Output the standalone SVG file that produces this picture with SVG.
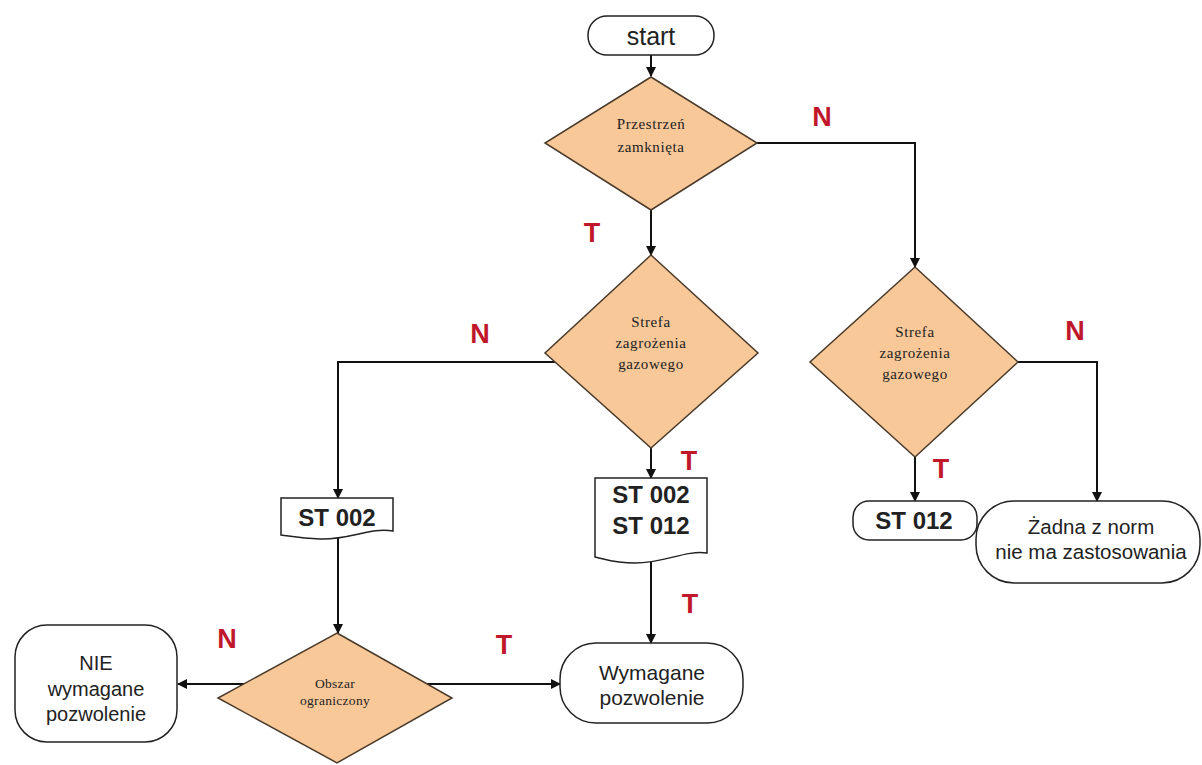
<svg xmlns="http://www.w3.org/2000/svg" width="1202" height="765" viewBox="0 0 1202 765">
<style>
.dia{fill:#f9c899;stroke:#4a3a2a;stroke-width:1.5}
.box{fill:#fff;stroke:#222;stroke-width:1.5}
.ser{font-family:"Liberation Serif",serif;font-size:15px;letter-spacing:0.6px;fill:#222;text-anchor:middle}
.san{font-family:"Liberation Sans",Arial,sans-serif;font-size:20.5px;fill:#222;text-anchor:middle}
.bold{font-family:"Liberation Sans",Arial,sans-serif;font-size:24px;font-weight:bold;fill:#222;text-anchor:middle}
.lbl{font-family:"Liberation Sans",Arial,sans-serif;font-size:27px;font-weight:bold;fill:#c0182a;text-anchor:middle}
.ln{fill:none;stroke:#111;stroke-width:2}
</style>
<defs>
<marker id="ah" markerWidth="10" markerHeight="10" refX="9" refY="5" orient="auto" markerUnits="userSpaceOnUse">
<path d="M0,0 L10,5 L0,10 Z" fill="#111"/>
</marker>
</defs>
<rect width="1202" height="765" fill="#fff"/>
<g id="connectors">
<path class="ln" d="M651,55 V76" marker-end="url(#ah)"/>
<path class="ln" d="M651,210 V255" marker-end="url(#ah)"/>
<path class="ln" d="M757,143 H915 V267" marker-end="url(#ah)"/>
<path class="ln" d="M555,362 H338 V498" marker-end="url(#ah)"/>
<path class="ln" d="M651,448 V478" marker-end="url(#ah)"/>
<path class="ln" d="M651,560 V643" marker-end="url(#ah)"/>
<path class="ln" d="M1018,362 H1097 V501" marker-end="url(#ah)"/>
<path class="ln" d="M915,457 V501" marker-end="url(#ah)"/>
<path class="ln" d="M338,538 V633" marker-end="url(#ah)"/>
<path class="ln" d="M248,684 H178" marker-end="url(#ah)"/>
<path class="ln" d="M425,684 H560" marker-end="url(#ah)"/>
</g>
<g id="start">
<rect class="box" x="588" y="16" width="126" height="39" rx="19"/>
<text class="san" x="651" y="45" style="font-size:25px">start</text>
</g>
<g id="d1">
<polygon class="dia" points="651,77 757,143 651,210 545,143"/>
<text class="ser" x="651" y="129">Przestrzeń</text>
<text class="ser" x="651" y="152">zamknięta</text>
</g>
<g id="d2">
<polygon class="dia" points="651,255 758,353 651,448 545,353"/>
<text class="ser" x="651" y="327">Strefa</text>
<text class="ser" x="651" y="348">zagrożenia</text>
<text class="ser" x="651" y="369">gazowego</text>
</g>
<g id="d3">
<polygon class="dia" points="915,267 1018,362 915,457 810,362"/>
<text class="ser" x="915" y="337">Strefa</text>
<text class="ser" x="915" y="358">zagrożenia</text>
<text class="ser" x="915" y="379">gazowego</text>
</g>
<g id="st002">
<path class="box" d="M281,498 H393 V531 C370,527 350,540 320,539 C300,538 290,536 281,535 Z"/>
<text class="bold" x="337" y="526">ST 002</text>
</g>
<g id="st002012">
<path class="box" d="M595,478 H707 V553 C685,550 665,563 635,563 C615,563 605,559 595,557 Z"/>
<text class="bold" x="651" y="503">ST 002</text>
<text class="bold" x="651" y="534">ST 012</text>
</g>
<g id="st012">
<rect class="box" x="853" y="501" width="124" height="39" rx="16"/>
<text class="bold" x="914" y="529">ST 012</text>
</g>
<g id="zadna">
<rect class="box" x="976" y="501" width="224" height="82" rx="38"/>
<text class="san" x="1091" y="534">Żadna z norm</text>
<text class="san" x="1091" y="559">nie ma zastosowania</text>
</g>
<g id="d4">
<polygon class="dia" points="337,633 452,698 337,763 218,698"/>
<text class="ser" x="335" y="688" style="font-size:13.5px;letter-spacing:0.3px">Obszar</text>
<text class="ser" x="335" y="705" style="font-size:13.5px;letter-spacing:0.3px">ograniczony</text>
</g>
<g id="nie">
<rect class="box" x="15" y="625" width="162" height="117" rx="32"/>
<text class="san" x="96" y="670" style="font-size:20px">NIE</text>
<text class="san" x="96" y="696" style="font-size:20px">wymagane</text>
<text class="san" x="96" y="721" style="font-size:20px">pozwolenie</text>
</g>
<g id="wymagane">
<rect class="box" x="560" y="643" width="183" height="80" rx="36"/>
<text class="san" x="652" y="680" style="font-size:21px">Wymagane</text>
<text class="san" x="652" y="705" style="font-size:21px">pozwolenie</text>
</g>
<g id="labels">
<text class="lbl" x="822" y="126">N</text>
<text class="lbl" x="592" y="242">T</text>
<text class="lbl" x="480" y="343">N</text>
<text class="lbl" x="1075" y="340">N</text>
<text class="lbl" x="689" y="470">T</text>
<text class="lbl" x="941" y="478">T</text>
<text class="lbl" x="690" y="613">T</text>
<text class="lbl" x="504" y="654">T</text>
<text class="lbl" x="227" y="648">N</text>
</g>
</svg>
